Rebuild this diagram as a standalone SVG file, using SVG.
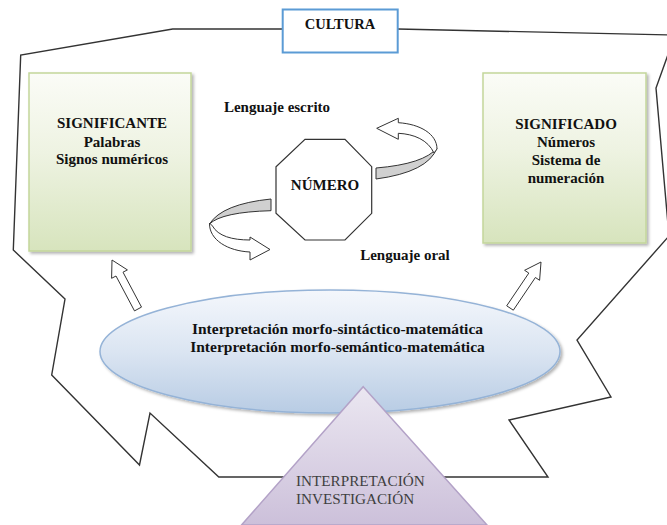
<svg xmlns="http://www.w3.org/2000/svg" width="667" height="525" viewBox="0 0 667 525">
<style>
.t{font-family:"Liberation Serif","Times New Roman",serif;font-weight:bold;font-size:15px;fill:#111;text-anchor:middle}
.tr{font-family:"Liberation Serif","Times New Roman",serif;font-size:15.2px;fill:#3f3f3f}
.ln{fill:none;stroke:#333;stroke-width:1.4;stroke-linejoin:miter}
.blk{fill:#fff;stroke:#333;stroke-width:1}
.band{fill:#d0d0d0;stroke:#333;stroke-width:1}
.gbox{fill:url(#gGreen);stroke:#c3d69b;stroke-width:1.5}
</style>
<defs>
<linearGradient id="gGreen" x1="0" y1="0" x2="0" y2="1">
<stop offset="0" stop-color="#fbfcf7"/><stop offset="0.45" stop-color="#eef3e2"/><stop offset="1" stop-color="#d7e4bd"/>
</linearGradient>
<linearGradient id="gBlue" x1="0" y1="0" x2="0" y2="1">
<stop offset="0" stop-color="#f4f7fc"/><stop offset="0.5" stop-color="#dbe5f2"/><stop offset="1" stop-color="#b8cce4"/>
</linearGradient>
<linearGradient id="gPurple" x1="0" y1="0" x2="0" y2="1">
<stop offset="0" stop-color="#ebe7f1"/><stop offset="1" stop-color="#ccc0da"/>
</linearGradient>
<filter id="sh" x="-10%" y="-10%" width="130%" height="130%">
<feDropShadow dx="2" dy="2" stdDeviation="1.5" flood-color="#000" flood-opacity="0.3"/>
</filter>
</defs>
<rect width="667" height="525" fill="#fff"/>
<g id="boundary">
<polyline class="ln" points="282.7,29 172.7,29 20.7,55 13.3,250 65,299 51.7,375 139.5,465 150,413 218.8,477 548,477 509,420 611,397 577,340 669,236 656,88 675,35 397.7,29"/>
</g>
<g id="node-cultura">
<rect x="282.7" y="9.5" width="115" height="43" fill="#fff" stroke="#5b9bd5" stroke-width="2"/>
<text class="t" x="340" y="28.5" style="font-size:14.5px">CULTURA</text>
</g>
<g id="node-significante">
<rect class="gbox" x="29" y="73" width="162" height="178" filter="url(#sh)"/>
<text class="t" x="112" y="128">SIGNIFICANTE</text>
<text class="t" x="112" y="146.5">Palabras</text>
<text class="t" x="112" y="164">Signos numéricos</text>
</g>
<g id="node-significado">
<rect class="gbox" x="483" y="73" width="163" height="170" filter="url(#sh)"/>
<text class="t" x="566" y="129">SIGNIFICADO</text>
<text class="t" x="566" y="146.5">Números</text>
<text class="t" x="566" y="165">Sistema de</text>
<text class="t" x="566" y="182.5">numeración</text>
</g>
<g id="label-escrito"><text class="t" x="277" y="111.5">Lenguaje escrito</text></g>
<g id="label-oral"><text class="t" x="405" y="260">Lenguaje oral</text></g>
<g id="node-numero">
<polygon points="305,139.3 345,139.3 371.7,166.7 371.7,213.3 345,240 305,240 276,213.3 276,166.7" fill="#fff" stroke="#333" stroke-width="1.2"/>
<text class="t" x="325" y="190">NÚMERO</text>
</g>
<g id="connectors">
<path class="band" d="M376,168 Q424,164 437,148 Q428,172 376,179 Z"/>
<path class="blk" d="M437,149 C437,134 420,124 398.3,122.7 L398.3,118.3 L376.7,128.3 L398.3,139.3 L398.3,133.3 C414,134 428,140 434,153 Z"/>
<path class="band" d="M271,199 Q222,204 209.5,224 Q222,212 271,210.7 Z"/>
<path class="blk" d="M209.5,223 C209,240 228,251 250,252 L250,260 L270,249.5 L250,237 L250,240 C232,240 218,236 212.5,226 Z"/>
<polygon class="blk" points="134.5,310.9 116,276 111.6,278.3 112,260 127.4,269.9 123,272.2 141.5,307.1"/>
<polygon class="blk" points="506.7,305.8 528.8,273.1 524.6,270.3 541,262 539.6,280.3 535.4,277.5 513.3,310.2"/>
</g>
<g id="node-interpretacion">
<ellipse cx="330" cy="351.5" rx="230" ry="61.5" fill="url(#gBlue)" stroke="#95b3d7" stroke-width="1.5" filter="url(#sh)"/>
<text class="t" x="337.5" y="334" style="font-size:15.5px">Interpretación morfo-sintáctico-matemática</text>
<text class="t" x="337.5" y="351.5" style="font-size:15.5px">Interpretación morfo-semántico-matemática</text>
</g>
<g id="node-investigacion">
<polygon points="363.2,386.7 487,525 241.5,525" fill="url(#gPurple)" stroke="#b3a2c7" stroke-width="1.5"/>
<text class="tr" x="296" y="485.5">INTERPRETACIÓN</text>
<text class="tr" x="296" y="503.5">INVESTIGACIÓN</text>
</g>
</svg>
